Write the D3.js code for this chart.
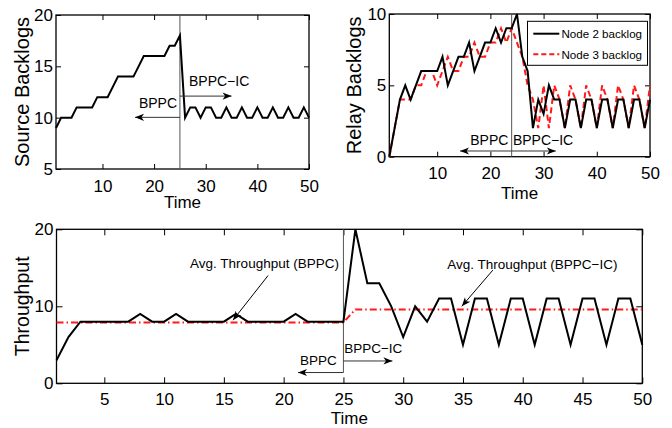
<!DOCTYPE html>
<html>
<head>
<meta charset="utf-8">
<script src="https://cdn.jsdelivr.net/npm/d3@7/dist/d3.min.js"></script>
<style>
  body { margin: 0; background: #fff; }
  text { font-family: "Liberation Sans", Arial, sans-serif; fill: #000; }
</style>
</head>
<body>
<svg id="chart" width="672" height="428"></svg>
<script>
// time slots
const time = [1,2,3,4,5,6,7,8,9,10,11,12,13,14,15,16,17,18,19,20,21,22,23,24,25,
              26,27,28,29,30,31,32,33,34,35,36,37,38,39,40,41,42,43,44,45,46,47,48,49,50];

// top left: source backlog
const sourceBacklog = [9,10,10,10,11,11,11,11,12,12,12,13,14,14,14,14,15,16,16,16,16,16,17,17,18,
                       10,11,11,10,11,11,10,10,11,10,10,11,10,10,11,10,10,11,10,10,11,10,10,11,10];

// top right: relay backlogs
const node2Backlog = [0,2,4,5,4,5,6,6,6,6,7,5,6,7,7,8,6,7,8,8,9,8,9,9,10,
                      7,6,2,4,3,5,4,4,2,4,4,2,4,4,2,4,4,2,4,4,2,4,4,2,4];
const node3Backlog = [0,2,4,4,4,5,5,6,6,5,6,7,6,6,7,7,8,7,7,8,8,9,8,9,8,
                      7,5,4,2,5,2,5,4,2,5,4,2,5,4,2,5,4,2,5,4,2,5,4,2,5];

// bottom: throughput and its running average
const throughput = [3,6,8,8,8,8,8,9,8,8,9,8,8,8,8,9,8,8,8,8,9,8,8,8,8,
                    20,13,13,10,6,10,8,11,11,5,11,11,5,11,11,5,11,11,5,11,11,5,11,11,5];
const avgThroughput = [7.9,7.9,7.9,7.9,7.9,7.9,7.9,7.9,7.9,7.9,7.9,7.9,7.9,7.9,7.9,7.9,7.9,7.9,7.9,7.9,7.9,7.9,7.9,7.9,7.9,
                       9.6,9.6,9.6,9.6,9.6,9.6,9.6,9.6,9.6,9.6,9.6,9.6,9.6,9.6,9.6,9.6,9.6,9.6,9.6,9.6,9.6,9.6,9.6,9.6,9.6];

const legendLabels = ["Node 2 backlog", "Node 3 backlog"];

const svg = d3.select("#chart");
svg.append("rect").attr("width", 672).attr("height", 428).attr("fill", "#fff");

// one MATLAB style panel: box, inward ticks on all sides
function panel(b) {
  const x = d3.scaleLinear().domain([1, 50]).range([b.left, b.right]);
  const y = d3.scaleLinear().domain(b.yDomain).range([b.bottom, b.top]);
  const g = svg.append("g");

  g.append("g").attr("transform", `translate(0,${b.bottom})`)
    .call(d3.axisBottom(x).tickValues(b.xTicks).tickSizeInner(-b.tick).tickSizeOuter(0).tickPadding(b.padX));
  g.append("g").attr("transform", `translate(${b.left},0)`)
    .call(d3.axisLeft(y).tickValues(b.yTicks).tickSizeInner(-b.tick).tickSizeOuter(0).tickPadding(3));
  g.append("g").attr("transform", `translate(0,${b.top})`)
    .call(d3.axisTop(x).tickValues(b.xTicks).tickSizeInner(-b.tick).tickSizeOuter(0).tickFormat(""));
  g.append("g").attr("transform", `translate(${b.right},0)`)
    .call(d3.axisRight(y).tickValues(b.yTicks).tickSizeInner(-b.tick).tickSizeOuter(0).tickFormat(""));

  g.selectAll(".domain").remove();
  g.selectAll(".tick line").attr("stroke", "#000").attr("stroke-width", 1);
  g.selectAll(".tick text").attr("font-size", b.tickFont + "px").attr("font-family", "Liberation Sans, Arial, sans-serif");

  g.append("rect")
    .attr("x", b.left).attr("y", b.top)
    .attr("width", b.right - b.left).attr("height", b.bottom - b.top)
    .attr("fill", "none").attr("stroke", "#000").attr("stroke-width", 1.3);

  // axis titles
  g.append("text")
    .attr("x", (b.left + b.right) / 2).attr("y", b.xTitleY)
    .attr("text-anchor", "middle").attr("font-size", b.xTitleFont + "px")
    .text("Time");
  g.append("text")
    .attr("transform", `translate(${b.yTitleX},${(b.top + b.bottom) / 2}) rotate(-90)`)
    .attr("text-anchor", "middle").attr("font-size", b.yTitleFont + "px")
    .text(b.yTitle);

  return { x, y, g };
}

function drawLine(p, values, color, dash, width) {
  p.g.append("path")
    .datum(values)
    .attr("fill", "none")
    .attr("stroke", color)
    .attr("stroke-width", width)
    .attr("stroke-dasharray", dash)
    .attr("d", d3.line().x((d, i) => p.x(time[i])).y(d => p.y(d)));
}

function arrow(g, x1, y1, x2, y2, color) {
  g.append("line")
    .attr("x1", x1).attr("y1", y1).attr("x2", x2).attr("y2", y2)
    .attr("stroke", color).attr("stroke-width", 1);
  const a = Math.atan2(y2 - y1, x2 - x1);
  const L = 9, W = 3.6, N = 6.5;
  const pt = (dl, dw) => [x2 - dl * Math.cos(a) - dw * Math.sin(a), y2 - dl * Math.sin(a) + dw * Math.cos(a)];
  const pts = [[x2, y2], pt(L, W), pt(N, 0), pt(L, -W)];
  g.append("path")
    .attr("d", "M" + pts.map(q => q.join(",")).join("L") + "Z")
    .attr("fill", "#000");
}

function label(g, x, y, txt, size) {
  g.append("text").attr("x", x).attr("y", y)
    .attr("text-anchor", "middle").attr("font-size", size + "px").text(txt);
}

// ---------- top left ----------
const tl = panel({
  left: 56, right: 309, top: 15, bottom: 169,
  yDomain: [5, 20], xTicks: [10, 20, 30, 40, 50], yTicks: [5, 10, 15, 20],
  tick: 5, padX: 11, tickFont: 17,
  xTitleY: 208, xTitleFont: 17,
  yTitle: "Source Backlogs", yTitleX: 29, yTitleFont: 20
});
tl.g.append("line")
  .attr("x1", tl.x(25)).attr("x2", tl.x(25)).attr("y1", 15).attr("y2", 169)
  .attr("stroke", "#555").attr("stroke-width", 1);
drawLine(tl, sourceBacklog, "#000", null, 2);
label(tl.g, tl.x(32.6), tl.y(13.57) + 5, "BPPC\u2212IC", 14);
arrow(tl.g, tl.x(25), tl.y(12.1), tl.x(35), tl.y(12.1), "#333");
label(tl.g, tl.x(20.75), tl.y(11.4) + 5, "BPPC", 14);
arrow(tl.g, tl.x(25), tl.y(10.03), tl.x(16.3), tl.y(10.03), "#333");

// ---------- top right ----------
const tr = panel({
  left: 389.3, right: 650, top: 14, bottom: 156.7,
  yDomain: [0, 10], xTicks: [10, 20, 30, 40, 50], yTicks: [0, 5, 10],
  tick: 5, padX: 10, tickFont: 17,
  xTitleY: 199, xTitleFont: 17,
  yTitle: "Relay Backlogs", yTitleX: 361, yTitleFont: 20
});
tr.g.append("line")
  .attr("x1", tr.x(24)).attr("x2", tr.x(24)).attr("y1", 14).attr("y2", 156.7)
  .attr("stroke", "#555").attr("stroke-width", 1);
drawLine(tr, node3Backlog, "#ff1a1a", "6,3.5", 2);
drawLine(tr, node2Backlog, "#000", null, 2);
label(tr.g, tr.x(19.8), tr.y(1.17) + 5, "BPPC", 14);
arrow(tr.g, tr.x(24), tr.y(0.4), tr.x(14.3), tr.y(0.4), "#333");
label(tr.g, tr.x(29.9), tr.y(1.17) + 5, "BPPC\u2212IC", 14);
arrow(tr.g, tr.x(24), tr.y(0.4), tr.x(32.3), tr.y(0.4), "#333");

// legend
const lg = tr.g.append("g");
lg.append("rect").attr("x", 527.5).attr("y", 21.3).attr("width", 120).attr("height", 44)
  .attr("fill", "#fff").attr("stroke", "#000").attr("stroke-width", 1);
const legendStyles = [{ color: "#000", dash: null }, { color: "#ff1a1a", dash: "5,3" }];
legendLabels.forEach((t, i) => {
  const yy = 33.7 + i * 20.6;
  lg.append("line").attr("x1", 533.3).attr("x2", 559.3).attr("y1", yy).attr("y2", yy)
    .attr("stroke", legendStyles[i].color).attr("stroke-width", 2)
    .attr("stroke-dasharray", legendStyles[i].dash);
  lg.append("text").attr("x", 561.5).attr("y", yy + 4.3).attr("font-size", "11.6px").text(t);
});

// ---------- bottom ----------
const bt = panel({
  left: 56.5, right: 642.3, top: 229.3, bottom: 383.3,
  yDomain: [0, 20], xTicks: [5, 10, 15, 20, 25, 30, 35, 40, 45, 50], yTicks: [0, 10, 20],
  tick: 6, padX: 10, tickFont: 17,
  xTitleY: 424, xTitleFont: 17,
  yTitle: "Throughput", yTitleX: 29.3, yTitleFont: 19.5
});
bt.g.append("line")
  .attr("x1", bt.x(25)).attr("x2", bt.x(25)).attr("y1", 229.3).attr("y2", bt.y(1.4))
  .attr("stroke", "#555").attr("stroke-width", 1);
drawLine(bt, avgThroughput, "#ff1a1a", "7,3,1.5,3", 2);
drawLine(bt, throughput, "#000", null, 2);

label(bt.g, bt.x(18.4), bt.y(15.6) + 5, "Avg. Throughput (BPPC)", 13.5);
arrow(bt.g, bt.x(18.7), bt.y(14.0), bt.x(15.76), bt.y(8.2), "#000");
label(bt.g, bt.x(40.8), bt.y(15.5) + 5, "Avg. Throughput (BPPC\u2212IC)", 13.5);
arrow(bt.g, bt.x(37.5), bt.y(14.7), bt.x(34.9), bt.y(10.0), "#000");

label(bt.g, bt.x(22.9), bt.y(3.0) + 5, "BPPC", 13.5);
arrow(bt.g, bt.x(25), bt.y(1.4), bt.x(21.2), bt.y(1.4), "#333");
label(bt.g, bt.x(27.5), bt.y(4.6) + 5, "BPPC\u2212IC", 13.5);
arrow(bt.g, bt.x(25), bt.y(2.9), bt.x(29.1), bt.y(2.9), "#333");
</script>
</body>
</html>
